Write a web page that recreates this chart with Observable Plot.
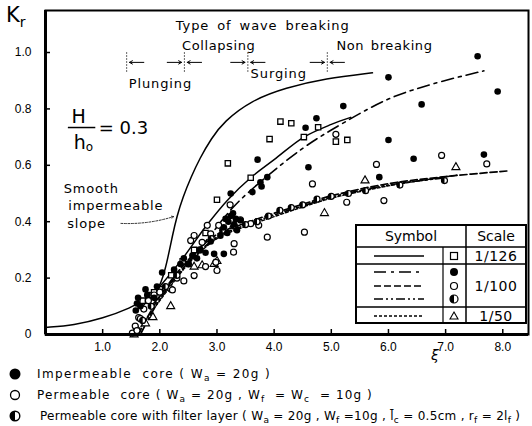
<!DOCTYPE html>
<html><head><meta charset="utf-8">
<script src="https://cdn.jsdelivr.net/npm/d3@7"></script>
<script src="https://cdn.jsdelivr.net/npm/@observablehq/plot@0.6"></script>
<style>
body{margin:0;background:#fff;font-family:"DejaVu Sans",sans-serif;color:#000;}
#wrap{position:relative;width:532px;height:360px;}
#wrap svg.plot{position:absolute;left:0;top:0;}
#overlay{position:absolute;left:0;top:0;pointer-events:none;}
.abs{position:absolute;white-space:nowrap;}
#legend{width:532px;font-size:12px;padding-top:3px;}
.row{height:21px;display:flex;align-items:center;white-space:nowrap;}
.row svg{margin-left:8px;margin-right:15px;flex:none;}
sub{font-size:0.75em;vertical-align:-0.3em;line-height:0;}
</style></head><body>
<div id="wrap"></div>
<div id="legend"></div>
<script>
// ---- axis ticks ----
const xTicks = [1, 2, 3, 4, 5, 6, 7, 8];
const xTickLabels = ["1.0", "2.0", "3.0", "4.0", "5.0", "6.0", "7.0", "8.0"];
const yTicks = [0, 0.2, 0.4, 0.6, 0.8, 1.0];
const yTickLabels = ["0", "0.2", "0.4", "0.6", "0.8", "1.0"];

// ---- breaking type boundaries (xi) ----
const breakingBounds = [1.42, 2.43, 3.54, 4.93];
const breakingLabels = ["Plunging", "Collapsing", "Surging", "Non breaking"];
const breakingLabelX = [2.01, 3.03, 4.08, 5.93];
const breakingLabelY = [0.89, 1.025, 0.926, 1.025];

// ---- curves ----
const smoothSlope = [[0,0.025],[0.5,0.033],[1.0,0.057],[1.5,0.095],[1.75,0.125],[1.9,0.145],[1.98,0.165],[2.06,0.205],[2.14,0.27],[2.22,0.35],[2.3,0.42],[2.4,0.485],[2.55,0.56],[2.7,0.625],[2.9,0.695],[3.12,0.755],[3.6,0.83],[4.2,0.875],[4.9,0.908],[5.72,0.928]];
const line126 = [[1.7,0.1],[2.0,0.17],[2.4,0.27],[2.83,0.39],[3.2,0.48],[3.59,0.556],[4.0,0.62],[4.52,0.70],[5.0,0.745],[5.34,0.77]];
const lineImpermeable = [[1.85,0.1],[2.3,0.21],[2.8,0.33],[3.3,0.455],[3.9,0.565],[4.5,0.66],[5.0,0.725],[6.0,0.835],[6.8,0.89],[7.67,0.935]];
const linePermeable = [[1.62,0],[2.0,0.135],[2.5,0.265],[3.0,0.355],[3.5,0.395],[4.0,0.43],[4.5,0.462],[5.0,0.492],[6.0,0.535],[7.0,0.56],[8.08,0.58]];
const lineFilter = [[1.66,0],[2.0,0.125],[2.5,0.255],[3.0,0.345],[3.5,0.388],[4.0,0.424],[4.5,0.456],[5.0,0.487],[6.0,0.53],[7.0,0.556]];
const line50 = [[1.57,0],[2.0,0.12],[2.5,0.25],[3.0,0.34],[3.5,0.383],[4.0,0.418],[4.5,0.452],[5.0,0.483],[6.0,0.527],[7.2,0.565]];

// ---- data points ----
const impermeableCore = [[1.58,0.085],[1.6,0.11],[1.62,0.13],[1.66,0.1],[1.75,0.16],[1.78,0.14],[1.9,0.13],[1.95,0.17],[2.04,0.22],[2.25,0.23],[2.36,0.25],[2.42,0.27],[2.5,0.25],[2.57,0.28],[2.65,0.27],[2.71,0.3],[2.8,0.29],[2.89,0.33],[2.95,0.286],[3.06,0.35],[3.12,0.286],[3.12,0.38],[3.15,0.41],[3.18,0.36],[3.2,0.4],[3.24,0.42],[3.28,0.43],[3.3,0.39],[3.33,0.41],[3.35,0.37],[3.41,0.405],[3.24,0.5],[3.62,0.505],[3.76,0.54],[3.78,0.525],[3.88,0.558],[3.71,0.62],[4.55,0.733],[4.6,0.593],[4.74,0.767],[5.21,0.81],[5.84,0.558],[6.0,0.912],[6.0,0.69],[6.44,0.623],[6.58,0.816],[7.56,0.987],[7.67,0.638],[7.91,0.862]];
const permeableCore = [[1.52,0.005],[1.57,0.03],[1.6,0.014],[1.63,0.06],[1.66,0.056],[1.72,0.09],[1.8,0.12],[1.9,0.14],[2.0,0.15],[2.19,0.162],[2.22,0.158],[2.3,0.2],[2.42,0.19],[2.54,0.333],[2.6,0.209],[2.6,0.351],[2.74,0.327],[2.8,0.241],[2.83,0.387],[2.89,0.357],[2.98,0.256],[3.0,0.227],[3.03,0.387],[3.23,0.46],[3.29,0.292],[3.3,0.322],[3.41,0.407],[3.59,0.393],[3.73,0.387],[3.88,0.345],[4.53,0.363],[4.67,0.534],[5.08,0.71],[5.27,0.469],[5.79,0.603],[5.92,0.475],[6.93,0.635],[7.72,0.605]];
const filterLayer = [[1.7,0.05],[1.85,0.1],[2.1,0.17],[2.3,0.21],[2.5,0.25],[2.7,0.3],[2.9,0.34],[3.1,0.37],[3.3,0.385],[3.5,0.39],[3.7,0.4],[3.9,0.42],[4.1,0.44],[4.3,0.45],[4.5,0.46],[4.75,0.48],[5.0,0.49],[5.3,0.5],[5.6,0.51],[6.2,0.53],[6.98,0.546]];
const scale126 = [[1.7,0.12],[1.8,0.14],[1.9,0.15],[2.0,0.16],[2.2,0.21],[2.4,0.26],[2.6,0.3],[2.8,0.36],[3.0,0.478],[3.19,0.607],[3.59,0.556],[3.92,0.693],[4.11,0.755],[4.3,0.749],[4.52,0.7],[4.77,0.735],[5.08,0.684],[5.28,0.69]];
const scale50 = [[1.55,0.0],[1.6,0.02],[1.75,0.039],[1.88,0.061],[2.19,0.1],[2.6,0.24],[2.74,0.245],[2.95,0.25],[3.0,0.26],[3.3,0.39],[4.88,0.43],[5.59,0.546],[7.18,0.593]];

const X = d => d[0], Y = d => d[1];
const halfSymbol = {draw(ctx, size){const r=Math.sqrt(size/Math.PI);ctx.moveTo(0,-r);ctx.arc(0,0,r,-Math.PI/2,Math.PI/2,true);ctx.closePath();}};

const arrows = [];
breakingBounds.forEach((b,i)=>{
  if(i>0) arrows.push({x1:b-0.3,x2:b-0.05});
  arrows.push({x1:b+0.3,x2:b+0.05});
});
const arrowY = 0.965;
const FF = '"DejaVu Sans", sans-serif';
const TF = '"Liberation Sans", Arial, sans-serif';

const plot = Plot.plot({
  width: 532, height: 360,
  marginTop: 10, marginBottom: 26, marginLeft: 45, marginRight: 4,
  style: {fontFamily: FF, fontSize: "12px", background: "white", color: "black"},
  x: {domain: [0, 8.45]},
  y: {domain: [0, 1.149]},
  marks: [
    // breaking type annotation
    Plot.ruleX(breakingBounds, {y1: 0.93, y2: 1.0, stroke: "black", strokeWidth: 0.8, strokeDasharray: "1.5,1.5"}),
    Plot.arrow(arrows, {x1: "x1", x2: "x2", y1: arrowY, y2: arrowY, headLength: 5, strokeWidth: 1, stroke: "black"}),
    Plot.text(["Type of wave breaking"], {x: 3.8, y: 1.096, text: d=>d, fontSize: 13}),
    Plot.text(breakingLabels, {x: (d,i)=>breakingLabelX[i], y: (d,i)=>breakingLabelY[i], text: d=>d, fontSize: 13}),
    // curves
    Plot.line(smoothSlope, {x: X, y: Y, curve: "basis", strokeWidth: 1.5}),
    Plot.line(line126, {x: X, y: Y, curve: "catmull-rom", strokeWidth: 1.5}),
    Plot.line(lineImpermeable, {x: X, y: Y, curve: "catmull-rom", strokeWidth: 1.6, strokeDasharray: "12,5,3,5"}),
    Plot.line(linePermeable, {x: X, y: Y, curve: "catmull-rom", strokeWidth: 1.7, strokeDasharray: "7,3"}),
    Plot.line(lineFilter, {x: X, y: Y, curve: "catmull-rom", strokeWidth: 1.7, strokeDasharray: "9,3,2,3,2,3"}),
    Plot.line(line50, {x: X, y: Y, curve: "catmull-rom", strokeWidth: 1.4, strokeDasharray: "3,2"}),
    // points
    Plot.dot(scale126, {x: X, y: Y, symbol: "square", r: 3, stroke: "black", fill: "white", strokeWidth: 1.3}),
    Plot.dot(scale50, {x: X, y: Y, symbol: "triangle", r: 3, stroke: "black", fill: "white", strokeWidth: 1.1}),
    Plot.dot(permeableCore, {x: X, y: Y, r: 3, stroke: "black", fill: "white", strokeWidth: 1.2}),
    Plot.dot(filterLayer, {x: X, y: Y, r: 3, stroke: "black", fill: "white", strokeWidth: 1.2}),
    Plot.dot(filterLayer, {x: X, y: Y, r: 3, symbol: halfSymbol, fill: "black", stroke: "none"}),
    Plot.dot(impermeableCore, {x: X, y: Y, r: 3.3, fill: "black", stroke: "none"}),
    // H/h0 annotation
    Plot.text(["H"], {x: 0.58, y: 0.77, text: d=>d, fontSize: 19}),
    Plot.ruleY([0.734], {x1: 0.4, x2: 0.88, strokeWidth: 1.5}),
    Plot.text(["h"], {x: 0.6, y: 0.68, text: d=>d, fontSize: 19}),
    Plot.text(["o"], {x: 0.77, y: 0.665, text: d=>d, fontSize: 12}),
    Plot.text(["= 0.3"], {x: 0.93, y: 0.73, text: d=>d, fontSize: 18, textAnchor: "start"}),
    // smooth slope label
    Plot.text(["Smooth", "impermeable", "slope"], {x: (d,i)=>[0.32,0.4,0.38][i], y: (d,i)=>[0.518,0.457,0.394][i], text: d=>d, textAnchor: "start", fontSize: 13}),
    Plot.arrow([{x1: 1.32, x2: 2.24}], {x1: "x1", x2: "x2", y1: 0.394, y2: 0.418, bend: -10, strokeWidth: 0.8, strokeDasharray: "2,1.5", headLength: 4}),
    // axes & frame
    Plot.axisX(xTicks, {tickSize: -5, tickPadding: 13, tickFormat: d => xTickLabels[xTicks.indexOf(d)], fontSize: 12, fontFamily: TF, strokeWidth: 1.5}),
    Plot.axisY(yTicks, {tickSize: -5, tickPadding: 19, tickFormat: d => yTickLabels[yTicks.indexOf(d)], fontSize: 12, fontFamily: TF, strokeWidth: 1.5}),
    Plot.frame({strokeWidth: 2}),
    Plot.ruleX([0], {strokeWidth: 3}),
    Plot.ruleY([0], {strokeWidth: 3})
  ]
});
plot.classList.add("plot");
// letter spacing for the annotation texts (not a Plot.text option)
const spacing = {"Type of wave breaking": ["0.9px", "3px"], "Plunging": ["0.9px"], "Collapsing": ["0.6px"], "Surging": ["0.9px"], "Non breaking": ["0.6px", "2px"], "Smooth": ["0.8px"], "impermeable": ["0.8px"], "slope": ["0.8px"]};
d3.select(plot).selectAll("text").each(function(){
  const s = spacing[this.textContent];
  if (s) { this.setAttribute("letter-spacing", s[0]); if (s[1]) this.setAttribute("word-spacing", s[1]); }
});
const wrap = document.getElementById("wrap");
wrap.appendChild(plot);

// K_r and xi labels
const kr = document.createElement("div");
kr.className = "abs"; kr.style.left = "6px"; kr.style.top = "3px"; kr.style.fontSize = "21px";
kr.innerHTML = 'K<sub style="font-size:14px;vertical-align:-0.35em">r</sub>';
wrap.appendChild(kr);
const xi = document.createElement("div");
xi.className = "abs"; xi.style.left = "431px"; xi.style.top = "347px"; xi.style.fontSize = "14px"; xi.style.fontStyle = "italic";
xi.textContent = "ξ";
wrap.appendChild(xi);

// symbol legend table (overlay)
const tableRows = [
  {scale: "1/126", lines: ["none"], syms: ["square"]},
  {scale: "1/100", lines: ["12,5,3,5", "7,3", "9,3,2,3,2,3"], syms: ["filled", "open", "half"]},
  {scale: "1/50", lines: ["3,2"], syms: ["triangle"]}
];
const ov = d3.select(wrap).append("svg").attr("id", "overlay").attr("width", 532).attr("height", 360);
const L = 356, R = 526, T = 225, B = 323, c1 = 443, c2 = 466, rows = [247, 264, 307];
ov.append("rect").attr("x", L).attr("y", T).attr("width", R-L).attr("height", B-T).attr("fill", "white").attr("stroke", "black").attr("stroke-width", 2);
ov.append("line").attr("x1", c2).attr("x2", c2).attr("y1", T).attr("y2", B).attr("stroke", "black").attr("stroke-width", 1.5);
ov.append("line").attr("x1", c1).attr("x2", c1).attr("y1", rows[0]).attr("y2", B).attr("stroke", "black").attr("stroke-width", 1.2);
rows.forEach(r => ov.append("line").attr("x1", L).attr("x2", R).attr("y1", r).attr("y2", r).attr("stroke", "black").attr("stroke-width", 1.5));
ov.append("text").attr("x", 411).attr("y", 241).attr("text-anchor", "middle").attr("font-size", 14).attr("font-family", FF).text("Symbol");
ov.append("text").attr("x", 496).attr("y", 241).attr("text-anchor", "middle").attr("font-size", 14).attr("font-family", FF).text("Scale");
const rowYs = [[256], [272, 286, 299], [316]];
const scaleYs = [256, 286, 316];
tableRows.forEach((row, i) => {
  row.lines.forEach((da, j) => {
    const y = rowYs[i][j];
    ov.append("line").attr("x1", 374).attr("x2", 424).attr("y1", y).attr("y2", y).attr("stroke", "black").attr("stroke-width", 1.3).attr("stroke-dasharray", da === "none" ? null : da);
    const s = row.syms[j], cx = 454;
    if (s === "square") ov.append("rect").attr("x", cx-3.5).attr("y", y-3.5).attr("width", 7).attr("height", 7).attr("fill", "white").attr("stroke", "black").attr("stroke-width", 1.2);
    else if (s === "triangle") ov.append("path").attr("d", `M${cx},${y-4}L${cx+4},${y+3}L${cx-4},${y+3}Z`).attr("fill", "white").attr("stroke", "black").attr("stroke-width", 1.1);
    else if (s === "filled") ov.append("circle").attr("cx", cx).attr("cy", y).attr("r", 4).attr("fill", "black");
    else if (s === "open") ov.append("circle").attr("cx", cx).attr("cy", y).attr("r", 3.5).attr("fill", "white").attr("stroke", "black").attr("stroke-width", 1.2);
    else if (s === "half") {
      ov.append("circle").attr("cx", cx).attr("cy", y).attr("r", 4).attr("fill", "white").attr("stroke", "black").attr("stroke-width", 1.2);
      ov.append("path").attr("d", `M${cx},${y-4}A4,4 0 0 0 ${cx},${y+4}Z`).attr("fill", "black");
    }
  });
  ov.append("text").attr("x", 496).attr("y", scaleYs[i] + 5).attr("text-anchor", "middle").attr("font-size", 14).attr("font-family", FF).attr("letter-spacing", "0.5px").text(row.scale);
});

// bottom legend
const legendItems = [
  {sym: "filled", ls: "1.4px", html: 'Impermeable &nbsp;core ( W<sub>a</sub> = 20g )'},
  {sym: "open", ls: "1.1px", html: 'Permeable &nbsp;core ( W<sub>a</sub> = 20g , W<sub>f</sub> &nbsp;= W<sub>c</sub> &nbsp;= 10g )'},
  {sym: "half", ls: "0.3px", html: 'Permeable core with filter layer ( W<sub>a</sub> = 20g , W<sub>f</sub> =10g , l&#772;<sub>c</sub> = 0.5cm , r<sub>f</sub> = 2l<sub>f</sub> )'}
];
const leg = d3.select("#legend");
legendItems.forEach((it, i) => {
  const row = leg.append("div").attr("class", "row").style("letter-spacing", it.ls);
  const s = row.append("svg").attr("width", 14).attr("height", 14);
  if (i === 2) s.style("margin-right", "18px");
  if (it.sym === "filled") s.append("circle").attr("cx", 7).attr("cy", 7).attr("r", 5.5).attr("fill", "black");
  else if (it.sym === "open") s.append("circle").attr("cx", 7).attr("cy", 7).attr("r", 4.5).attr("fill", "white").attr("stroke", "black").attr("stroke-width", 1.3);
  else {
    s.append("circle").attr("cx", 7).attr("cy", 7).attr("r", 4.8).attr("fill", "white").attr("stroke", "black").attr("stroke-width", 1.4);
    s.append("path").attr("d", "M7,2.2A4.8,4.8 0 0 0 7,11.8Z").attr("fill", "black");
  }
  row.append("span").html(it.html);
});
</script>
</body></html>
